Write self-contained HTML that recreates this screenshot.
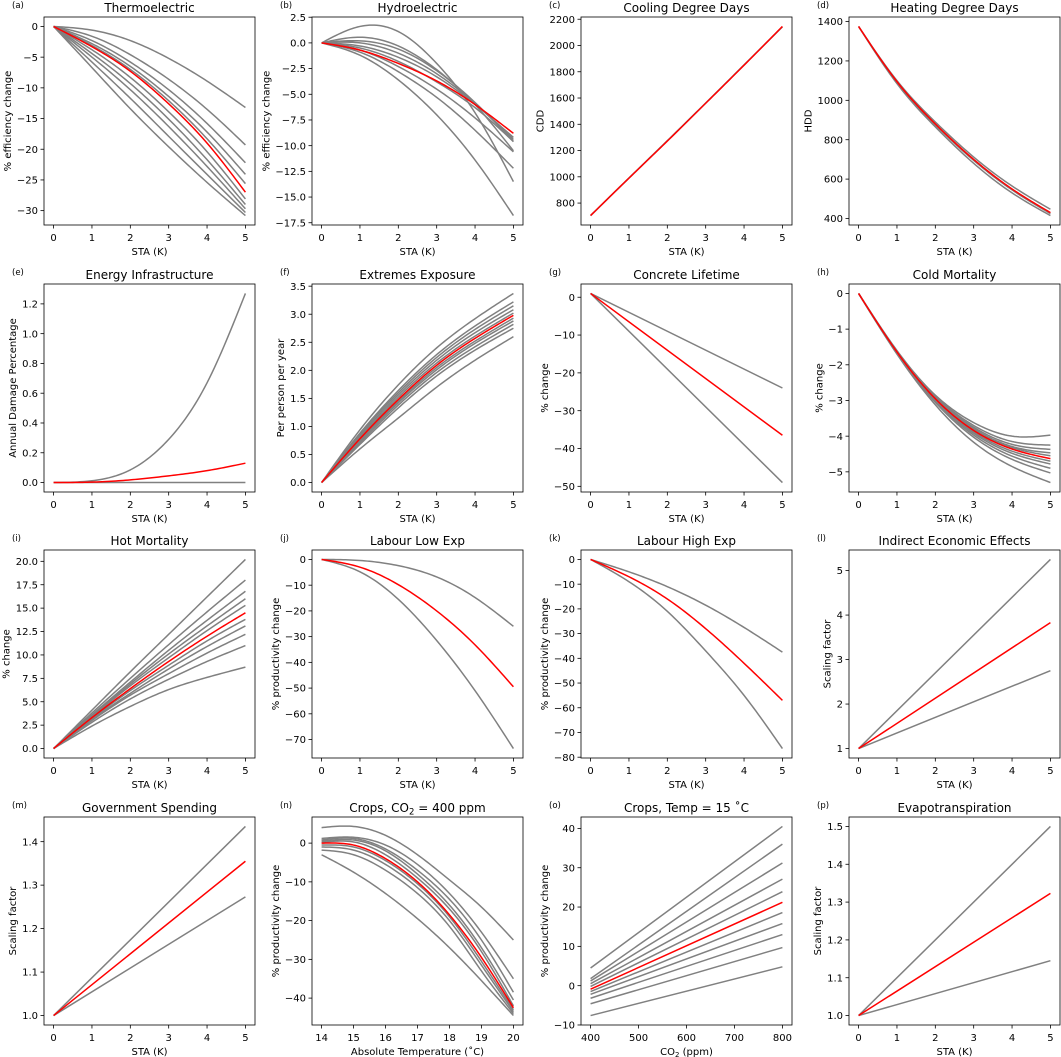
<!DOCTYPE html>
<html><head><meta charset="utf-8"><style>
html,body{margin:0;padding:0;background:#fff;}
svg{display:block;font-family:"DejaVu Sans","Liberation Sans",sans-serif;}
</style></head><body>
<svg id="fig" width="1061" height="1057" viewBox="0 0 1061 1057" xmlns="http://www.w3.org/2000/svg"></svg>
<script>
// ---------- data ----------
const staX = [0,1,2,3,4,5];
const staXTicks = [0,1,2,3,4,5];

const aGray = [[0,-0.6,-2.3,-5.2,-8.9,-13.2],[0,-1.6,-4.6,-8.6,-13.5,-19.3],[0,-2.3,-5.8,-10.3,-15.8,-22.2],[0,-2.8,-6.5,-11.4,-17.2,-24.1],[0,-3.1,-7.0,-12.1,-18.3,-25.6],[0,-3.8,-8.3,-13.9,-20.4,-28.1],[0,-4.4,-9.3,-15.1,-21.7,-29.0],[0,-5.0,-10.3,-16.3,-22.8,-29.7],[0,-5.8,-11.7,-17.9,-24.1,-30.3],[0,-6.7,-13.4,-19.6,-25.4,-30.8]];
const aRed = [0,-3.3,-7.3,-12.6,-19,-27];
const aYTicks = [0,-5,-10,-15,-20,-25,-30];

const bGray = [[0,1.6,1.1,-2.0,-6.8,-13.5],[0,0.55,-0.3,-2.6,-6.0,-10.5],[0,0.2,-0.6,-2.7,-5.8,-9.6],[0,0,-1.0,-3.0,-5.9,-9.4],[0,-0.3,-1.4,-3.3,-6.0,-9.2],[0,-0.5,-1.8,-3.8,-6.3,-9.6],[0,-0.7,-2.3,-4.5,-7.3,-10.6],[0,-0.9,-2.8,-5.3,-8.5,-12.2],[0,-1.2,-3.6,-7.0,-11.4,-16.8]];
const bRed = [0,-0.7,-2.0,-3.7,-6.0,-8.8];
const bYTicks = [2.5,0,-2.5,-5,-7.5,-10,-12.5,-15,-17.5];

const cGray = [[705,990,1275,1562,1852,2142],[705,991,1274,1561,1851,2143]];
const cRed = [705,990,1272,1560,1850,2145];
const cYTicks = [800,1000,1200,1400,1600,1800,2000,2200];

const dGray = [[1375,1100,890,712,565,447],[1375,1092,875,695,545,425],[1375,1085,865,680,530,415]];
const dRed = [1375,1095,880,700,550,430];
const dYTicks = [400,600,800,1000,1200,1400];

const eGray = [[0,0.012,0.085,0.29,0.67,1.27],[0,0,0,0,0,0]];
const eRed = [0,0.003,0.018,0.045,0.08,0.13];
const eYTicks = [0,0.2,0.4,0.6,0.8,1.0,1.2];

const fGray = [[0,0.94,1.74,2.4,2.92,3.37],[0,0.88,1.64,2.28,2.79,3.22],[0,0.86,1.6,2.23,2.73,3.15],[0,0.83,1.56,2.18,2.67,3.08],[0,0.8,1.52,2.13,2.61,3.02],[0,0.76,1.45,2.05,2.52,2.93],[0,0.74,1.42,2.01,2.48,2.88],[0,0.71,1.38,1.96,2.42,2.82],[0,0.68,1.33,1.9,2.36,2.75],[0,0.6,1.15,1.7,2.18,2.6]];
const fRed = [0,0.78,1.48,2.09,2.57,2.98];
const fYTicks = [0,0.5,1,1.5,2,2.5,3,3.5];

const gX = [0,5];
const gGray = [[1,-24],[1,-49]];
const gRed = [1,-36.5];
const gYTicks = [0,-10,-20,-30,-40,-50];

const hGray = [[0,-1.6,-2.85,-3.62,-4.0,-3.97],[0,-1.62,-2.88,-3.7,-4.15,-4.25],[0,-1.62,-2.9,-3.75,-4.23,-4.37],[0,-1.63,-2.92,-3.79,-4.29,-4.47],[0,-1.63,-2.93,-3.81,-4.32,-4.55],[0,-1.65,-2.97,-3.88,-4.42,-4.7],[0,-1.66,-2.99,-3.92,-4.48,-4.78],[0,-1.67,-3.02,-3.97,-4.56,-4.9],[0,-1.68,-3.05,-4.03,-4.65,-5.03],[0,-1.7,-3.12,-4.17,-4.85,-5.3]];
const hRed = [0,-1.64,-2.95,-3.84,-4.36,-4.63];
const hYTicks = [0,-1,-2,-3,-4,-5];

const iGray = [[0,4.1,8.2,12.2,16.2,20.2],[0,3.8,7.5,11.1,14.6,18.0],[0,3.6,7.1,10.5,13.7,16.8],[0,3.5,6.9,10.1,13.1,16.0],[0,3.4,6.7,9.7,12.6,15.3],[0,3.2,6.2,8.9,11.5,13.8],[0,3.1,5.9,8.5,10.9,13.1],[0,3.0,5.7,8.0,10.2,12.2],[0,2.8,5.3,7.4,9.3,11.0],[0,2.4,4.5,6.3,7.6,8.7]];
const iRed = [0,3.3,6.4,9.3,12.0,14.5];
const iYTicks = [0,2.5,5,7.5,10,12.5,15,17.5,20];

const jGray = [[0,-0.4,-2.4,-6.8,-14.8,-26],[0,-4.8,-15.5,-31.5,-51,-73.5]];
const jRed = [0,-3,-9.8,-20,-33.2,-49.5];
const jYTicks = [0,-10,-20,-30,-40,-50,-60,-70];

const kGray = [[0,-5,-11,-18.5,-27.5,-37.5],[0,-9,-21,-37,-55,-76.5]];
const kRed = [0,-7,-16,-28,-42,-57];
const kYTicks = [0,-10,-20,-30,-40,-50,-60,-70,-80];

const lGray = [[1,5.25],[1,2.75]];
const lRed = [1,3.83];
const lYTicks = [1,2,3,4,5];

const mGray = [[1,1.435],[1,1.273]];
const mRed = [1,1.355];
const mYTicks = [1.0,1.1,1.2,1.3,1.4];

const nX = [14,15,16,17,18,19,20];
const nXTicks = [14,15,16,17,18,19,20];
const nGray = [[4,4.3,2,-3,-9.5,-16.5,-25],[1.2,1.5,-0.5,-5.5,-13,-23,-35],[0.8,1.2,-1.5,-7,-14.5,-25,-38.5],[0.5,0.8,-2,-8,-16,-27,-40.5],[0.2,0.3,-3,-9,-17,-28,-42],[-0.5,-1,-4.5,-10.5,-19,-30.5,-43],[-1,-1.8,-5.5,-11.5,-20,-31.5,-43.5],[-1.8,-3,-7,-13,-21.5,-33,-44],[-3,-7.5,-13,-19.5,-27,-35.5,-44.5]];
const nRed = [0,-0.5,-4,-10,-18.5,-29.5,-42.5];
const nYTicks = [0,-10,-20,-30,-40];

const oX = [400,800];
const oXTicks = [400,500,600,700,800];
const oGray = [[4.5,40.5],[1.8,36],[1.2,31.2],[0.5,27.1],[-0.2,23.9],[-1.5,18.6],[-2.2,15.8],[-3.2,13],[-4.6,9.7],[-7.6,4.8]];
const oRed = [-0.9,21.2];
const oYTicks = [-10,0,10,20,30,40];

const pGray = [[1,1.5],[1,1.145]];
const pRed = [1,1.323];
const pYTicks = [1.0,1.1,1.2,1.3,1.4,1.5];

// ---------- layout ----------
const colL = [44,312,581,849], rowT = [17,284,550,817], W = 211, H = 208;
const SVGNS = "http://www.w3.org/2000/svg";
const fig = document.getElementById('fig');
function mk(tag, attrs, parent){const e=document.createElementNS(SVGNS,tag);for(const k in attrs)e.setAttribute(k,attrs[k]);(parent||fig).appendChild(e);return e;}
function fmt(v,dec){const s=Math.abs(v).toFixed(dec);return (v<0?'\u2212':'')+s;}

const panels = [
 {id:'a',title:'Thermoelectric',yl:'% efficiency change',x:staX,xt:staXTicks,g:aGray,r:aRed,yt:aYTicks,dec:0},
 {id:'b',title:'Hydroelectric',yl:'% efficiency change',x:staX,xt:staXTicks,g:bGray,r:bRed,yt:bYTicks,dec:1},
 {id:'c',title:'Cooling Degree Days',yl:'CDD',x:staX,xt:staXTicks,g:cGray,r:cRed,yt:cYTicks,dec:0},
 {id:'d',title:'Heating Degree Days',yl:'HDD',x:staX,xt:staXTicks,g:dGray,r:dRed,yt:dYTicks,dec:0},
 {id:'e',title:'Energy Infrastructure',yl:'Annual Damage Percentage',x:staX,xt:staXTicks,g:eGray,r:eRed,yt:eYTicks,dec:1},
 {id:'f',title:'Extremes Exposure',yl:'Per person per year',x:staX,xt:staXTicks,g:fGray,r:fRed,yt:fYTicks,dec:1},
 {id:'g',title:'Concrete Lifetime',yl:'% change',x:gX,xt:staXTicks,g:gGray,r:gRed,yt:gYTicks,dec:0},
 {id:'h',title:'Cold Mortality',yl:'% change',x:staX,xt:staXTicks,g:hGray,r:hRed,yt:hYTicks,dec:0},
 {id:'i',title:'Hot Mortality',yl:'% change',x:staX,xt:staXTicks,g:iGray,r:iRed,yt:iYTicks,dec:1},
 {id:'j',title:'Labour Low Exp',yl:'% productivity change',x:staX,xt:staXTicks,g:jGray,r:jRed,yt:jYTicks,dec:0},
 {id:'k',title:'Labour High Exp',yl:'% productivity change',x:staX,xt:staXTicks,g:kGray,r:kRed,yt:kYTicks,dec:0},
 {id:'l',title:'Indirect Economic Effects',yl:'Scaling factor',x:gX,xt:staXTicks,g:lGray,r:lRed,yt:lYTicks,dec:0},
 {id:'m',title:'Government Spending',yl:'Scaling factor',x:gX,xt:staXTicks,g:mGray,r:mRed,yt:mYTicks,dec:1},
 {id:'n',title:'CO2TITLE',yl:'% productivity change',xl:'Absolute Temperature (\u02daC)',x:nX,xt:nXTicks,g:nGray,r:nRed,yt:nYTicks,dec:0},
 {id:'o',title:'Crops, Temp = 15 \u02daC',yl:'% productivity change',xl:'CO2XL',x:oX,xt:oXTicks,g:oGray,r:oRed,yt:oYTicks,dec:0},
 {id:'p',title:'Evapotranspiration',yl:'Scaling factor',x:gX,xt:staXTicks,g:pGray,r:pRed,yt:pYTicks,dec:1}
];

// natural cubic spline
function curvePts(xs, ys, sx, sy){
  const n=xs.length;
  if(n<=2){return xs.map((x,i)=>[sx(x),sy(ys[i])]);}
  const h=[],al=[0],l=[1],mu=[0],z=[0],c=new Array(n).fill(0),b=[],d=[];
  for(let i=0;i<n-1;i++)h.push(xs[i+1]-xs[i]);
  for(let i=1;i<n-1;i++)al.push(3/h[i]*(ys[i+1]-ys[i])-3/h[i-1]*(ys[i]-ys[i-1]));
  for(let i=1;i<n-1;i++){l[i]=2*(xs[i+1]-xs[i-1])-h[i-1]*mu[i-1];mu[i]=h[i]/l[i];z[i]=(al[i]-h[i-1]*z[i-1])/l[i];}
  z[n-1]=0;
  for(let j=n-2;j>=0;j--){c[j]=z[j]-mu[j]*c[j+1];b[j]=(ys[j+1]-ys[j])/h[j]-h[j]*(c[j+1]+2*c[j])/3;d[j]=(c[j+1]-c[j])/(3*h[j]);}
  const pts=[];
  for(let i=0;i<n-1;i++){
    for(let s=0;s<16;s++){
      const t=s/16*h[i];
      pts.push([sx(xs[i]+t),sy(ys[i]+b[i]*t+c[i]*t*t+d[i]*t*t*t)]);
    }
  }
  pts.push([sx(xs[n-1]),sy(ys[n-1])]);
  return pts;
}

panels.forEach((p,idx)=>{
  const L=colL[idx%4], T=rowT[Math.floor(idx/4)];
  const grp=mk('g',{});
  
  
  const xmin=Math.min(...p.x), xmax=Math.max(...p.x), xm=(xmax-xmin)*0.05;
  const all=[...p.g.flat(),...p.r];
  const ymin=Math.min(...all), ymax=Math.max(...all), ym=(ymax-ymin)*0.05;
  const sx=v=>L+(v-(xmin-xm))/((xmax+xm)-(xmin-xm))*W;
  const sy=v=>T+H-(v-(ymin-ym))/((ymax+ym)-(ymin-ym))*H;
  const series=[...p.g.map(s=>['g',s]),['r',p.r]];
  series.forEach(([kind,ys],si)=>{
    const pts=curvePts(p.x,ys,sx,sy);
    const pl=mk('polyline',{points:pts.map(q=>q[0].toFixed(2)+','+q[1].toFixed(2)).join(' '),fill:'none',stroke:kind==='r'?'#ff0000':'#808080','stroke-width':1.5,'stroke-linejoin':'round'},grp);
    
    
  });
  const fr=mk('rect',{x:L,y:T,width:W,height:H,fill:'none',stroke:'#000','stroke-width':0.8},grp);
  
  
  p.xt.forEach(v=>{
    const x=sx(v);
    mk('line',{x1:x,y1:T+H,x2:x,y2:T+H+3.5,stroke:'#000','stroke-width':0.8},grp);
    const t=mk('text',{x:x,y:T+H+16,'font-size':10,'text-anchor':'middle',fill:'#000'},grp);
    t.textContent=String(v);
    
    
  });
  let maxW=0;
  p.yt.forEach(v=>{
    const y=sy(v);
    if(y<T-0.5||y>T+H+0.5) return;
    mk('line',{x1:L-3.5,y1:y,x2:L,y2:y,stroke:'#000','stroke-width':0.8},grp);
    const t=mk('text',{x:L-6,y:y+3.6,'font-size':10,'text-anchor':'end',fill:'#000'},grp);
    t.textContent=fmt(v,p.dec);
    
    
    try{maxW=Math.max(maxW,t.getComputedTextLength());}catch(e){maxW=Math.max(maxW,t.textContent.length*6.4);}
  });
  const yx=L-6-maxW-6;
  const yl=mk('text',{x:yx,y:T+H/2,'font-size':10,'text-anchor':'middle',transform:`rotate(-90 ${yx} ${T+H/2})`,fill:'#000'},grp);
  yl.textContent=p.yl;
  
  
  const xl=mk('text',{x:L+W/2,y:T+H+30,'font-size':10,'text-anchor':'middle',fill:'#000'},grp);
  if(p.xl==='CO2XL'){xl.innerHTML='CO<tspan font-size="7" dy="2">2</tspan><tspan dy="-2"> (ppm)</tspan>';}
  else xl.textContent=p.xl||'STA (K)';
  
  
  const tt=mk('text',{x:L+W/2,y:T-5,'font-size':12,'text-anchor':'middle',fill:'#000'},grp);
  if(p.title==='CO2TITLE'){tt.innerHTML='Crops, CO<tspan font-size="8.5" dy="2.5">2</tspan><tspan dy="-2.5"> = 400 ppm</tspan>';}
  else tt.textContent=p.title;
  
  
  const lt=mk('text',{x:L-32,y:T-9,'font-size':8.5,fill:'#000'},grp);
  lt.textContent='('+p.id+')';
  
  
});
</script>
</body></html>
